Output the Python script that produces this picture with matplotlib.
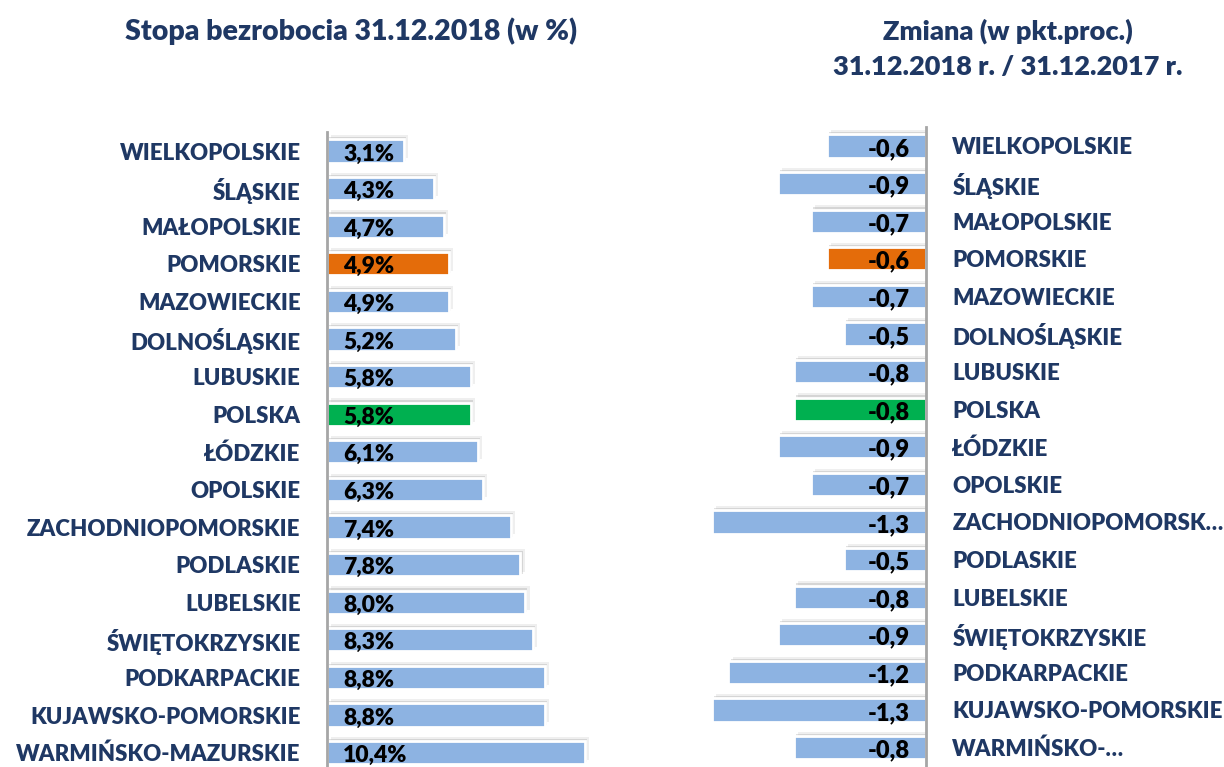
import matplotlib.pyplot as plt
import matplotlib.patheffects as pe

# Dane: stopa bezrobocia 31.12.2018 i zmiana r/r
regiony_lewe = ["WIELKOPOLSKIE", "ŚLĄSKIE", "MAŁOPOLSKIE", "POMORSKIE", "MAZOWIECKIE",
                "DOLNOŚLĄSKIE", "LUBUSKIE", "POLSKA", "ŁÓDZKIE", "OPOLSKIE",
                "ZACHODNIOPOMORSKIE", "PODLASKIE", "LUBELSKIE", "ŚWIĘTOKRZYSKIE",
                "PODKARPACKIE", "KUJAWSKO-POMORSKIE", "WARMIŃSKO-MAZURSKIE"]
stopa = [3.1, 4.3, 4.7, 4.9, 4.9, 5.2, 5.8, 5.8, 6.1, 6.3, 7.4, 7.8, 8.0, 8.3, 8.8, 8.8, 10.4]

regiony_prawe = ["WIELKOPOLSKIE", "ŚLĄSKIE", "MAŁOPOLSKIE", "POMORSKIE", "MAZOWIECKIE",
                 "DOLNOŚLĄSKIE", "LUBUSKIE", "POLSKA", "ŁÓDZKIE", "OPOLSKIE",
                 "ZACHODNIOPOMORSK…", "PODLASKIE", "LUBELSKIE", "ŚWIĘTOKRZYSKIE",
                 "PODKARPACKIE", "KUJAWSKO-POMORSKIE", "WARMIŃSKO-…"]
zmiana = [-0.6, -0.9, -0.7, -0.6, -0.7, -0.5, -0.8, -0.8, -0.9, -0.7, -1.3, -0.5, -0.8, -0.9,
          -1.2, -1.3, -0.8]

NIEBIESKI = "#8DB3E2"
POMARANCZ = "#E46C0A"
ZIELONY = "#00B050"
GRANAT = "#1F3864"
WAGA = 800


def kolory(nazwy):
    wynik = []
    for n in nazwy:
        if n == "POMORSKIE":
            wynik.append(POMARANCZ)
        elif n == "POLSKA":
            wynik.append(ZIELONY)
        else:
            wynik.append(NIEBIESKI)
    return wynik


plt.rcParams["font.family"] = ["Lato", "DejaVu Sans"]
plt.rcParams["font.weight"] = WAGA

W, H = 1224, 767
fig = plt.figure(figsize=(W / 100, H / 100), dpi=100)

# miekki cien za slupkami
cien = [pe.SimplePatchShadow(offset=(3, 3), shadow_rgbFace="#999999", alpha=0.15),
        pe.SimplePatchShadow(offset=(1.5, 1.5), shadow_rgbFace="#999999", alpha=0.3),
        pe.Normal()]

# Wykres lewy
krok = 37.6
n = len(stopa)
y_top = 151 - krok / 2
y_bot = y_top + krok * n
x0 = 327
skala = 24.8
ax1 = fig.add_axes([x0 / W, 1 - y_bot / H, 11.5 * skala / W, (y_bot - y_top) / H])
pozycje = list(range(n))
slupki = ax1.barh(pozycje, stopa, height=0.62, color=kolory(regiony_lewe),
                  edgecolor="white", linewidth=2)
for s in slupki:
    s.set_path_effects(cien)
ax1.set_xlim(0, 11.5)
ax1.set_ylim(n - 0.5, -0.5)
ax1.set_yticks(pozycje)
ax1.set_yticklabels(regiony_lewe, fontsize=16, color=GRANAT, fontweight=WAGA)
ax1.tick_params(axis="y", length=0, pad=19)
ax1.set_xticks([])
for k in ["top", "right", "bottom"]:
    ax1.spines[k].set_visible(False)
ax1.spines["left"].set_color("#A6A6A6")
ax1.spines["left"].set_linewidth(2)
for i, v in enumerate(stopa):
    ax1.text(0.65, i + 0.08, f"{v:.1f}%".replace(".", ","), va="center", ha="left",
             fontsize=16.5, fontweight=WAGA, color="black")

# Wykres prawy
y_top2 = 146 - krok / 2
y_bot2 = y_top2 + krok * n
x_os = 926
skala2 = 164.6
ax2 = fig.add_axes([(x_os - 1.4 * skala2) / W, 1 - y_bot2 / H, 1.4 * skala2 / W,
                    (y_bot2 - y_top2) / H])
slupki2 = ax2.barh(pozycje, zmiana, height=0.62, color=kolory(regiony_prawe),
                   edgecolor="white", linewidth=2)
for s in slupki2:
    s.set_path_effects(cien)
ax2.set_xlim(-1.4, 0)
ax2.set_ylim(n - 0.5, -0.5)
ax2.yaxis.tick_right()
ax2.set_yticks(pozycje)
ax2.set_yticklabels(regiony_prawe, fontsize=16, color=GRANAT, fontweight=WAGA)
ax2.tick_params(axis="y", length=0, pad=19)
ax2.set_xticks([])
for k in ["top", "left", "bottom"]:
    ax2.spines[k].set_visible(False)
ax2.spines["right"].set_color("#A6A6A6")
ax2.spines["right"].set_linewidth(2)
for i, v in enumerate(zmiana):
    ax2.text(-0.1, i + 0.08, f"{v:.1f}".replace(".", ","), va="center", ha="right",
             fontsize=17, fontweight=WAGA, color="black")

# Tytuly
fig.text(351 / W, 1 - 31 / H, "Stopa bezrobocia 31.12.2018 (w %)", ha="center", va="center",
         fontsize=20.5, fontweight=WAGA, color=GRANAT)
fig.text(1008 / W, 1 - 31 / H, "Zmiana (w pkt.proc.)", ha="center", va="center",
         fontsize=19.5, fontweight=WAGA, color=GRANAT)
fig.text(1008 / W, 1 - 67 / H, "31.12.2018 r. / 31.12.2017 r.", ha="center", va="center",
         fontsize=19.5, fontweight=WAGA, color=GRANAT)

fig.savefig("out.png", dpi=100)
